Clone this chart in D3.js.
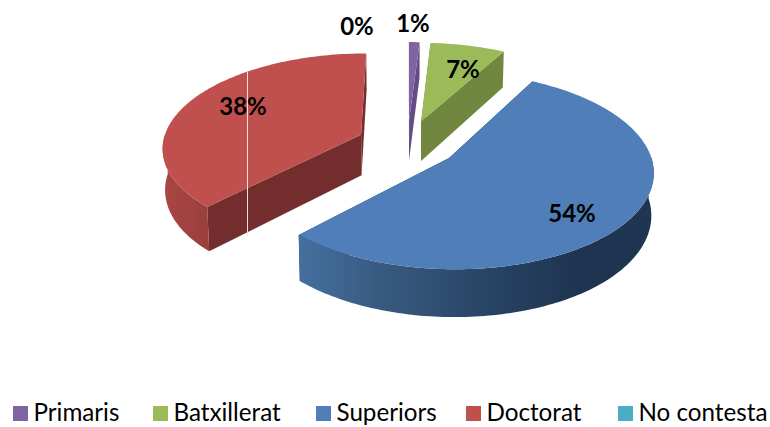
<!DOCTYPE html>
<html><head><meta charset="utf-8">
<script src="https://cdn.jsdelivr.net/npm/d3@7/dist/d3.min.js"></script>
<style>html,body{margin:0;padding:0;background:#fff}svg{display:block}text{font-family:Lato,"Open Sans",sans-serif}</style>
</head><body><svg id="c" width="770" height="427"></svg>
<script>
const categories = ["Primaris","Batxillerat","Superiors","Doctorat","No contesta"];
const values = [1,7,54.2,37.8,0];
const labels = ["1%","7%","54%","38%","0%"];
const colors = ["#8064a2","#9bbb59","#4f7eb9","#c0504d","#4bacc6"];
const sideColors = ["#644d85","#71863f","#223a58","#722d2c","#2f7f95"];

const svg = d3.select("#c");
const W=770,H=427;
const cx=407.5,cy=143.5,fx=198.5,fy=93.5,k=0.125,explode=0.255,depth=41;

const pie=d3.pie().sort(null).value(d=>d.v).startAngle(0).endAngle(2*Math.PI);
const arcs=pie(categories.map((c,i)=>({c,v:values[i],i})));

function proj(X,Y,low){
  const s=1/(1-k*Y);
  let x=cx+fx*X*s, y=cy+fy*Y*s;
  if(low){x=cx+(x-cx)*0.99; y+=depth*s;}
  return [x,y];
}
function plane(a,angle,r){
  const mid=(a.startAngle+a.endAngle)/2;
  return [explode*Math.sin(mid)+r*Math.sin(angle), -explode*Math.cos(mid)-r*Math.cos(angle)];
}
const P=(a,ang,r,low)=>{const p=plane(a,ang,r);return proj(p[0],p[1],low);};
const line=d3.line();
function samples(a0,a1){const n=Math.max(2,Math.ceil(Math.abs(a1-a0)/0.02));return d3.range(n+1).map(i=>a0+(a1-a0)*i/n);}

const defs=svg.append("defs");
const g=defs.append("linearGradient").attr("id","blueSide").attr("gradientUnits","userSpaceOnUse").attr("x1",296).attr("x2",654).attr("y1",0).attr("y2",0);
[[0,"#44709f"],[0.25,"#38597f"],[0.6,"#25405f"],[0.8,"#1e3450"],[1,"#1f3551"]].forEach(s=>g.append("stop").attr("offset",s[0]).attr("stop-color",s[1]));
const g2=defs.append("linearGradient").attr("id","redSide").attr("gradientUnits","userSpaceOnUse").attr("x1",162).attr("x2",210).attr("y1",0).attr("y2",0);
[[0,"#aa4644"],[1,"#983f3d"]].forEach(s=>g2.append("stop").attr("offset",s[0]).attr("stop-color",s[1]));
const sideFill=i=>i===2?"url(#blueSide)":i===3?"url(#redSide)":sideColors[i];

const drawOrder=[3,0,1,2];
drawOrder.forEach(i=>{
  const a=arcs[i]; if(a.data.v===0) return;
  const G=svg.append("g");
  const apexT=P(a,a.startAngle,0,false), apexB=P(a,a.startAngle,0,true);
  [a.startAngle,a.endAngle].forEach(ang=>{
    const o=P(a,ang,1,false), ob=P(a,ang,1,true);
    G.append("path").attr("d",line([apexT,o,ob,apexB])+"Z").attr("fill",sideColors[i]);
  });
  const ss=samples(a.startAngle,a.endAngle).filter(t=>Math.cos(t)<=0.02);
  if(ss.length>1){
    const top=ss.map(t=>P(a,t,1,false)), bot=ss.map(t=>P(a,t,1,true)).reverse();
    G.append("path").attr("d",line(top.concat(bot))+"Z").attr("fill",sideFill(i));
  }
  const rim=samples(a.startAngle,a.endAngle).map(t=>P(a,t,1,false));
  G.append("path").attr("d",line([apexT].concat(rim))+"Z").attr("fill",colors[i]);
});

svg.append("line").attr("x1",247.5).attr("x2",247.5).attr("y1",72).attr("y2",236).attr("stroke","#f4dcdc").attr("stroke-width",1);

const labelPos={"Primaris":[413,22],"Batxillerat":[463,68],"Superiors":[572,212],"Doctorat":[243,105],"No contesta":[357,25]};
svg.append("g").selectAll("text").data(categories).join("text")
  .attr("x",c=>labelPos[c][0]).attr("y",c=>labelPos[c][1])
  .attr("text-anchor","middle").attr("dominant-baseline","central")
  .attr("font-size",24).attr("font-weight",700).attr("fill","#000")
  .text((c,i)=>labels[i]);

const legendX={"Primaris":13,"Batxillerat":153,"Superiors":316,"Doctorat":466,"No contesta":618};
const lg=svg.append("g");
categories.forEach((c,i)=>{
  lg.append("rect").attr("x",legendX[c]).attr("y",406).attr("width",15).attr("height",15).attr("fill",colors[i]);
  lg.append("text").attr("x",legendX[c]+20.5).attr("y",421).attr("font-size",24.2).attr("fill","#000").text(c);
});
</script></body></html>
